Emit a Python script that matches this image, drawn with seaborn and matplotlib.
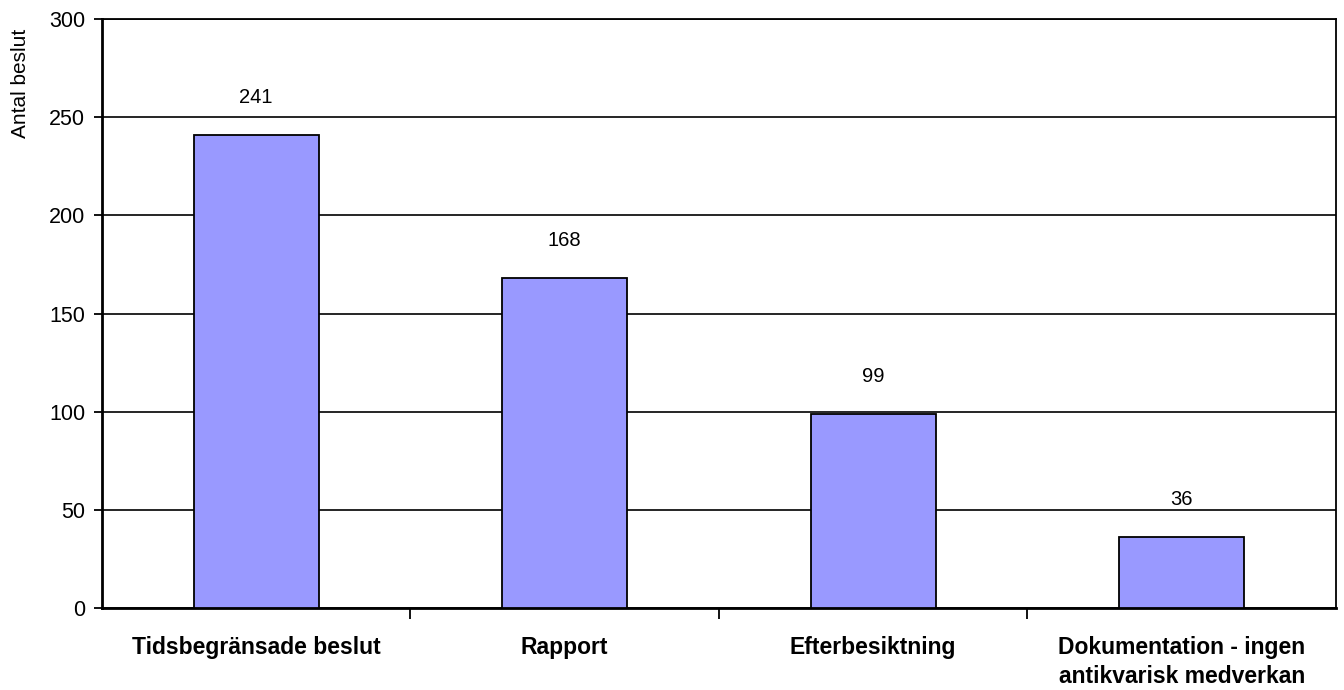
import matplotlib
matplotlib.use("Agg")
import matplotlib.pyplot as plt
import seaborn as sns
import pandas as pd
from matplotlib.ticker import FixedLocator

categories = ["Tidsbegränsade beslut", "Rapport", "Efterbesiktning",
              "Dokumentation - ingen\nantikvarisk medverkan"]
values = [241, 168, 99, 36]
y_ticks = [0, 50, 100, 150, 200, 250, 300]

sns.set_theme(style="white")
plt.rcParams["font.family"] = ["Liberation Sans", "DejaVu Sans"]
plt.rcParams["text.color"] = "black"
plt.rcParams["axes.labelcolor"] = "black"
plt.rcParams["xtick.color"] = "black"
plt.rcParams["ytick.color"] = "black"

df = pd.DataFrame({"kategori": categories, "antal": values})

fig = plt.figure(figsize=(13.44, 6.9), dpi=100)
ax = fig.add_axes([102/1344, 1 - 608/690, (1336 - 102)/1344, (608 - 19)/690])

sns.barplot(data=df, x="kategori", y="antal", color="#9999FF", saturation=1,
            edgecolor="black", linewidth=1.3, width=0.405, ax=ax, zorder=3)

ax.set_ylim(0, 300)
ax.set_xlim(-0.5, len(categories) - 0.5)
ax.set_yticks(y_ticks)
ax.yaxis.grid(True, color="black", linewidth=1.2, zorder=0)
ax.set_axisbelow(True)

for i, v in enumerate(values):
    ax.annotate(str(v), (i, v), xytext=(0, 27), textcoords="offset points",
                ha="center", va="center", fontsize=14.5, color="black")

ax.set_xlabel("")
ax.set_ylabel("Antal beslut", fontsize=15, color="black")
ax.yaxis.set_label_coords(-0.0584, 0.89)
ax.tick_params(axis="y", labelsize=15.5, length=6, width=1.3, direction="out", left=True, pad=6,
               colors="black")
ax.tick_params(axis="x", which="major", length=0, labelsize=16.5, pad=20, colors="black")
ax.xaxis.set_minor_locator(FixedLocator([0.5, 1.5, 2.5]))
ax.tick_params(axis="x", which="minor", length=8, width=1.3, direction="out", bottom=True,
               colors="black")
for lbl in ax.get_xticklabels():
    lbl.set_fontweight("bold")
    lbl.set_linespacing(1.35)

for side in ["left", "bottom"]:
    ax.spines[side].set_linewidth(2)
    ax.spines[side].set_color("black")
for side in ["right", "top"]:
    ax.spines[side].set_linewidth(1.3)
    ax.spines[side].set_color("black")

fig.savefig("out.png", dpi=100, facecolor="white")
